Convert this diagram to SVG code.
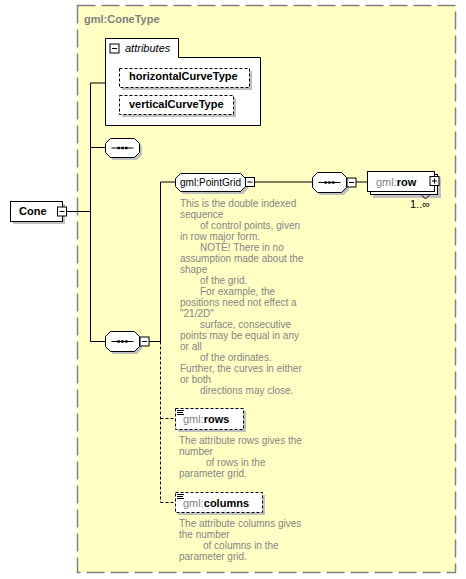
<svg xmlns="http://www.w3.org/2000/svg" width="466" height="579" viewBox="0 0 466 579">
<style>
.bg{fill:#FFFFC4;stroke:#808080;stroke-width:1.5;stroke-dasharray:18,6}
.box{fill:#fff;stroke:#000;stroke-width:1}
.dbox{fill:#fff;stroke:#000;stroke-width:1;stroke-dasharray:3,2}
.sh{fill:#C0C0C0}
.ln{stroke:#000;stroke-width:1;fill:none}
.dl{stroke:#000;stroke-width:1;fill:none;stroke-dasharray:3,2}
.t{font-family:"Liberation Sans",Arial,sans-serif;font-size:11px;fill:#000}
.b{font-weight:bold}
.g{fill:#808080}
.doc{font-family:"Liberation Sans",Arial,sans-serif;font-size:10px;fill:#858585}
</style>
<defs>
<g id="seqglyph">
<line x1="-11" y1="0" x2="11" y2="0" stroke="#000" stroke-width="1"/>
<rect x="-5" y="-1.2" width="2.4" height="2.4" fill="#000"/>
<rect x="-1.2" y="-1.2" width="2.4" height="2.4" fill="#000"/>
<rect x="2.6" y="-1.2" width="2.4" height="2.4" fill="#000"/>
</g>
<g id="minus"><rect x="0" y="0" width="9" height="9" class="box"/><line x1="2" y1="4.5" x2="7" y2="4.5" stroke="#000"/></g>
<g id="plus"><rect x="0" y="0" width="9" height="9" class="box"/><line x1="2" y1="4.5" x2="7" y2="4.5" stroke="#000"/><line x1="4.5" y1="2" x2="4.5" y2="7" stroke="#000"/></g>
</defs>

<g id="ConeType">
<rect x="77.5" y="5.5" width="378" height="567" class="bg"/>
<text x="84" y="23" class="t b g">gml:ConeType</text>
</g>

<g id="connectors">
<path class="ln" d="M66,211.5H90.5M90.5,83V341.5M90.5,83H105M90.5,147.5H105M90.5,341.5H105"/>
<path class="ln" d="M149,341.5H160.5M160.5,182V341.5M160.5,182H175"/>
<path class="ln" d="M254,182H312M356,182H367"/>
<path class="dl" d="M160.5,341.5V502.5M160.5,418.5H175M160.5,502.5H175"/>
</g>

<g id="attributes">
<path class="box" d="M105.5,38.5H178.5V57.5H260.5V125.5H105.5Z"/>
<use href="#minus" x="110" y="44"/>
<text x="125" y="52" class="t" font-style="italic">attributes</text>
</g>

<g id="horizontalCurveType">
<rect x="122" y="71" width="130" height="19" class="sh"/>
<rect x="119.5" y="68.5" width="130" height="19" class="dbox"/>
<text x="129" y="80" class="t b">horizontalCurveType</text>
</g>

<g id="verticalCurveType">
<rect x="122" y="98" width="114" height="19" class="sh"/>
<rect x="119.5" y="95.5" width="114" height="19" class="dbox"/>
<text x="129" y="108" class="t b">verticalCurveType</text>
</g>

<g id="Cone">
<rect x="13" y="204" width="52" height="20" class="sh"/>
<rect x="10.5" y="201.5" width="52" height="20" class="box"/>
<text x="19" y="215" class="t b">Cone</text>
<use href="#minus" x="57.5" y="207"/>
</g>

<g id="seq1">
<polygon class="sh" points="113,141 137,141 142,146 142,155 137,160 113,160 108,155 108,146"/>
<polygon class="box" points="110.5,138.5 134.5,138.5 139.5,143.5 139.5,152.5 134.5,157.5 110.5,157.5 105.5,152.5 105.5,143.5"/>
<use href="#seqglyph" x="122.5" y="148"/>
</g>

<g id="seq2">
<polygon class="sh" points="113,334 137,334 142,339 142,349 137,354 113,354 108,349 108,339"/>
<polygon class="box" points="110.5,331.5 134.5,331.5 139.5,336.5 139.5,346.5 134.5,351.5 110.5,351.5 105.5,346.5 105.5,336.5"/>
<use href="#seqglyph" x="122.5" y="341.5"/>
<use href="#minus" x="140" y="337"/>
</g>

<g id="PointGrid">
<polygon class="sh" points="183,176 243,176 248,181 248,189 243,194 183,194 178,189 178,181"/>
<polygon class="box" points="180.5,173.5 240.5,173.5 245.5,178.5 245.5,186.5 240.5,191.5 180.5,191.5 175.5,186.5 175.5,178.5"/>
<text x="180" y="186" class="t" font-size="10.5" textLength="61" lengthAdjust="spacingAndGlyphs">gml:PointGrid</text>
<use href="#minus" x="245.5" y="177.5"/>
<g class="doc">
<text x="180" y="207">This is the double indexed</text>
<text x="180" y="218">sequence</text>
<text x="200" y="229">of control points, given</text>
<text x="180" y="240">in row major form.</text>
<text x="200" y="251">NOTE! There in no</text>
<text x="180" y="262">assumption made about the</text>
<text x="180" y="273">shape</text>
<text x="200" y="284">of the grid.</text>
<text x="200" y="295">For example, the</text>
<text x="180" y="306">positions need not effect a</text>
<text x="180" y="317">"21/2D"</text>
<text x="200" y="328">surface, consecutive</text>
<text x="180" y="339">points may be equal in any</text>
<text x="180" y="350">or all</text>
<text x="200" y="361">of the ordinates.</text>
<text x="180" y="372">Further, the curves in either</text>
<text x="180" y="383">or both</text>
<text x="200" y="394">directions may close.</text>
</g>
</g>

<g id="seq3">
<polygon class="sh" points="320,175 344,175 349,180 349,190 344,195 320,195 315,190 315,180"/>
<polygon class="box" points="317.5,172.5 341.5,172.5 346.5,177.5 346.5,187.5 341.5,192.5 317.5,192.5 312.5,187.5 312.5,177.5"/>
<use href="#seqglyph" x="329.5" y="182.5"/>
<use href="#minus" x="347" y="178"/>
</g>

<g id="row">
<rect x="373" y="177" width="68" height="21" class="sh"/>
<rect x="370.5" y="174.5" width="67" height="20" class="box"/>
<rect x="367.5" y="171.5" width="67" height="20" class="box"/>
<polyline class="ln" points="421,194.5 425.5,199 430,194.5"/>
<text x="376" y="186" class="t" font-size="12"><tspan class="g">gml:</tspan><tspan class="b">row</tspan></text>
<use href="#plus" x="430" y="176.5"/>
<text x="410" y="208" class="t" font-size="10">1..∞</text>
</g>

<g id="rows">
<rect x="178" y="411" width="68" height="21" class="sh"/>
<rect x="175.5" y="408.5" width="68" height="21" class="dbox"/>
<path class="ln" d="M177,410.5H184M177,412.5H183M177,414.5H184"/>
<text x="183" y="423" class="t" font-size="12"><tspan class="g">gml:</tspan><tspan class="b">rows</tspan></text>
<g class="doc">
<text x="179" y="444">The attribute rows gives the</text>
<text x="179" y="455">number</text>
<text x="206" y="466">of rows in the</text>
<text x="179" y="477">parameter grid.</text>
</g>
</g>

<g id="columns">
<rect x="178" y="495" width="87" height="20" class="sh"/>
<rect x="175.5" y="492.5" width="87" height="20" class="dbox"/>
<path class="ln" d="M177,494.5H184M177,496.5H183M177,498.5H184"/>
<text x="183" y="507" class="t" font-size="12"><tspan class="g">gml:</tspan><tspan class="b">columns</tspan></text>
<g class="doc">
<text x="179" y="527">The attribute columns gives</text>
<text x="179" y="538">the number</text>
<text x="203" y="549">of columns in the</text>
<text x="179" y="560">parameter grid.</text>
</g>
</g>
</svg>
